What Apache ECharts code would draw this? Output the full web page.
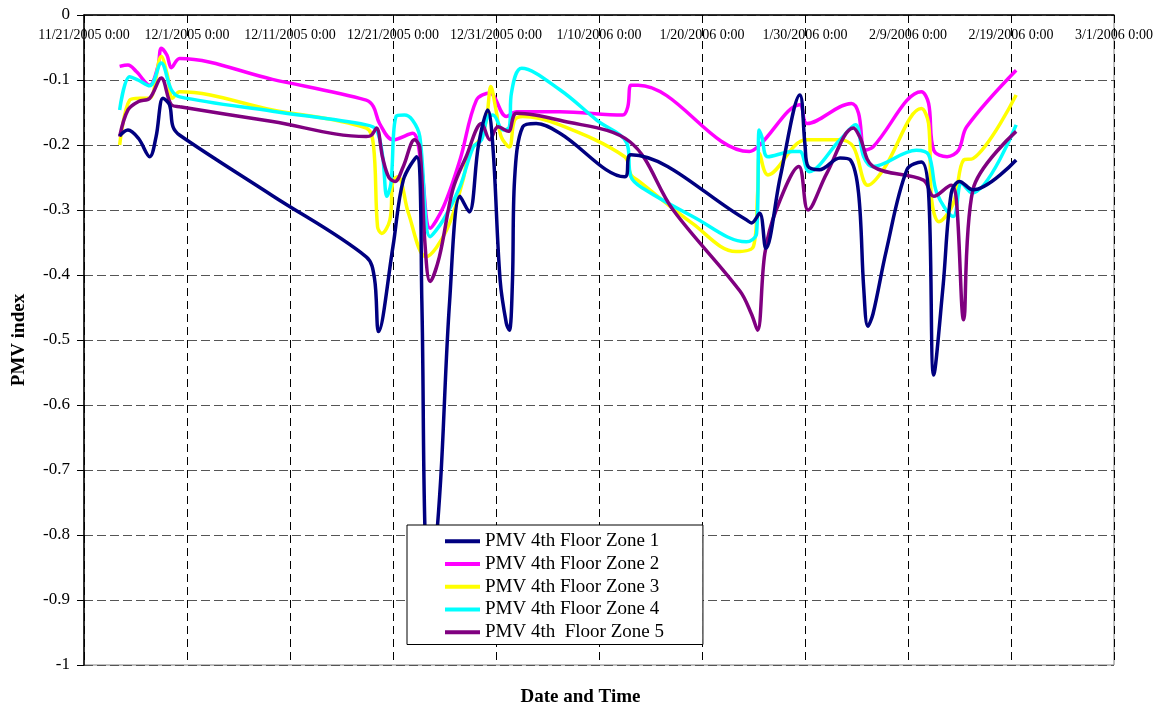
<!DOCTYPE html>
<html>
<head>
<meta charset="utf-8">
<script src="https://cdn.jsdelivr.net/npm/echarts@6/dist/echarts.min.js"></script>
<style>
html,body{margin:0;padding:0;background:#fff;}
#chart{width:1161px;height:709px;}
</style>
</head>
<body>
<div id="chart"></div>
<script>
// x values: days elapsed since 11/21/2005 0:00
const xTickLabels = ['11/21/2005 0:00','12/1/2005 0:00','12/11/2005 0:00','12/21/2005 0:00','12/31/2005 0:00','1/10/2006 0:00','1/20/2006 0:00','1/30/2006 0:00','2/9/2006 0:00','2/19/2006 0:00','3/1/2006 0:00'];
const seriesNames = ['PMV 4th Floor Zone 1','PMV 4th Floor Zone 2','PMV 4th Floor Zone 3','PMV 4th Floor Zone 4','PMV 4th  Floor Zone 5'];

const zone1Days = [3.46,4.27,5.3,6.38,7.0,7.67,8.3,8.64,9.3,18.3,27.4,28.2,28.6,30.0,31.0,32.3,32.8,33.1,33.6,34.3,34.7,35.5,36.5,37.4,38.3,39.2,39.7,40.4,41.0,41.3,41.6,41.8,42.6,43.9,46.2,52.5,53.1,64.3,64.8,65.6,66.2,67.6,69.5,70.0,70.3,71.4,73.4,74.4,75.2,75.7,76.1,76.6,77.9,79.9,81.3,82.0,82.5,83.4,84.2,85.0,86.3,90.5];
const zone1PMV  = [-0.186,-0.177,-0.19,-0.218,-0.187,-0.128,-0.138,-0.172,-0.185,-0.278,-0.372,-0.405,-0.487,-0.356,-0.254,-0.218,-0.44,-0.79,-0.92,-0.79,-0.695,-0.44,-0.279,-0.303,-0.2,-0.146,-0.203,-0.408,-0.474,-0.485,-0.408,-0.254,-0.172,-0.167,-0.182,-0.249,-0.215,-0.315,-0.32,-0.305,-0.359,-0.249,-0.123,-0.2,-0.233,-0.238,-0.22,-0.223,-0.274,-0.42,-0.479,-0.46,-0.362,-0.238,-0.226,-0.274,-0.554,-0.418,-0.274,-0.256,-0.269,-0.223];

const zone2Days = [3.46,4.27,5.08,6.38,7.18,7.5,8.06,8.48,9.29,18.3,27.4,28.1,28.7,30.0,31.9,32.75,33.6,34.9,36.5,38.1,39.4,41.0,42.0,46.2,52.3,52.8,53.1,53.8,64.6,65.6,69.5,70.2,74.5,75.2,75.8,76.6,81.3,82.0,82.5,83.8,84.9,85.7,90.5];
const zone2PMV  = [-0.079,-0.077,-0.087,-0.108,-0.079,-0.051,-0.062,-0.081,-0.067,-0.099,-0.131,-0.141,-0.167,-0.192,-0.182,-0.233,-0.328,-0.295,-0.223,-0.131,-0.12,-0.156,-0.149,-0.149,-0.154,-0.141,-0.108,-0.108,-0.21,-0.2,-0.138,-0.167,-0.136,-0.151,-0.208,-0.203,-0.118,-0.136,-0.208,-0.218,-0.208,-0.172,-0.085];

const zone3Days = [3.46,4.43,5.4,6.38,7.5,8.06,8.6,9.29,18.3,27.4,28.1,28.5,28.9,29.7,30.0,30.5,31.5,33.2,35.2,36.8,37.4,38.4,39.06,39.5,40.0,40.5,41.3,41.8,42.6,46.2,52.5,53.1,53.9,59.1,63.3,65.0,65.4,65.6,66.4,70.1,73.4,74.7,76.1,77.6,81.3,82.0,82.3,83.0,84.4,85.4,86.3,90.5];
const zone3PMV  = [-0.2,-0.131,-0.128,-0.128,-0.064,-0.09,-0.128,-0.118,-0.146,-0.174,-0.2,-0.326,-0.336,-0.315,-0.254,-0.249,-0.305,-0.372,-0.331,-0.254,-0.21,-0.192,-0.162,-0.11,-0.146,-0.187,-0.203,-0.162,-0.156,-0.169,-0.218,-0.246,-0.256,-0.321,-0.364,-0.356,-0.274,-0.213,-0.246,-0.192,-0.192,-0.203,-0.262,-0.238,-0.144,-0.167,-0.285,-0.318,-0.29,-0.223,-0.221,-0.123];

const zone4Days = [3.46,4.43,5.24,6.38,7.5,8.48,9.29,18.3,27.4,28.4,29.0,29.4,29.8,30.3,31.1,31.9,32.6,33.6,34.9,36.5,37.8,38.6,39.2,39.7,40.7,41.3,41.5,42.5,46.2,49.8,52.7,53.1,54.3,59.1,64.3,65.3,65.55,65.8,66.4,68.8,69.5,70.4,73.4,74.9,75.7,76.6,80.8,82.0,82.8,84.4,85.2,86.2,90.5];
const zone4PMV  = [-0.146,-0.095,-0.1,-0.109,-0.074,-0.115,-0.126,-0.148,-0.169,-0.177,-0.218,-0.279,-0.259,-0.156,-0.154,-0.162,-0.187,-0.341,-0.315,-0.264,-0.203,-0.192,-0.156,-0.154,-0.177,-0.172,-0.12,-0.082,-0.115,-0.162,-0.197,-0.249,-0.267,-0.31,-0.349,-0.336,-0.177,-0.187,-0.218,-0.21,-0.21,-0.241,-0.192,-0.169,-0.218,-0.233,-0.208,-0.215,-0.274,-0.31,-0.259,-0.274,-0.169];

const zone5Days = [3.46,4.27,5.3,6.38,7.5,8.48,9.29,18.3,27.4,27.9,28.4,29.0,29.6,30.2,31.0,32.1,32.6,33.1,33.6,34.5,35.8,37.1,38.6,39.4,40.2,41.2,42.0,46.2,53.0,57.2,63.7,64.8,65.4,66.1,67.2,69.4,70.3,72.1,74.7,75.3,76.6,81.5,82.5,84.2,84.7,85.4,86.3,90.5];
const zone5PMV  = [-0.187,-0.146,-0.133,-0.128,-0.097,-0.138,-0.141,-0.164,-0.187,-0.185,-0.174,-0.22,-0.25,-0.256,-0.233,-0.192,-0.203,-0.351,-0.41,-0.372,-0.269,-0.218,-0.167,-0.192,-0.172,-0.179,-0.151,-0.162,-0.195,-0.3,-0.425,-0.46,-0.485,-0.367,-0.3,-0.233,-0.3,-0.244,-0.174,-0.187,-0.233,-0.254,-0.279,-0.262,-0.285,-0.469,-0.269,-0.179];

const colors = ['#000080','#FF00FF','#FFFF00','#00FFFF','#800080'];
const allDays = [zone1Days, zone2Days, zone3Days, zone4Days, zone5Days];
const allPMV = [zone1PMV, zone2PMV, zone3PMV, zone4PMV, zone5PMV];
const seriesZ = [7, 3, 4, 5, 6];

const FONT = '"Liberation Serif", "Times New Roman", serif';

const chart = echarts.init(document.getElementById('chart'), null, {renderer: 'canvas'});

const series = seriesNames.map((name, i) => ({
  name: name,
  type: 'line',
  data: allDays[i].map((d, j) => [d, allPMV[i][j]]),
  smooth: 0.35,
  showSymbol: false,
  symbol: 'none',
  lineStyle: {color: colors[i], width: 3.5},
  itemStyle: {color: colors[i]},
  z: seriesZ[i]
}));

chart.setOption({
  animation: false,
  backgroundColor: '#ffffff',
  grid: {left: 84, top: 15, right: 47, bottom: 44, show: true, borderColor: '#808080', borderWidth: 1, backgroundColor: 'transparent'},
  xAxis: {
    type: 'value', position: 'top', min: 0, max: 100, interval: 10,
    axisLine: {show: true, onZero: false, lineStyle: {color: '#000', width: 1.5}},
    axisTick: {show: true, inside: true, length: 5, lineStyle: {color: '#000'}},
    axisLabel: {inside: true, margin: 13, fontFamily: FONT, fontSize: 14, color: '#000',
      formatter: v => xTickLabels[Math.round(v / 10)]},
    splitLine: {show: true, lineStyle: {color: '#000', type: [8, 5], width: 1}}
  },
  yAxis: {
    type: 'value', min: -1, max: 0, interval: 0.1,
    axisLine: {show: true, lineStyle: {color: '#000', width: 1.5}},
    axisTick: {show: true, inside: false, length: 7, lineStyle: {color: '#000'}},
    axisLabel: {margin: 14, fontFamily: FONT, fontSize: 17, color: '#000',
      formatter: v => (Math.abs(v) < 1e-9 ? '0' : String(Math.round(v * 10) / 10))},
    splitLine: {show: true, lineStyle: {color: '#555', type: [9, 4], width: 1}},
    name: 'PMV index', nameLocation: 'middle', nameGap: 55, nameRotate: 90,
    nameTextStyle: {fontFamily: FONT, fontSize: 19, fontWeight: 'bold', color: '#000'}
  },
  legend: {
    orient: 'vertical', left: 407, top: 525,
    data: seriesNames,
    icon: 'rect',
    backgroundColor: '#ffffff', borderColor: '#000', borderWidth: 1,
    padding: [5, 39, 1, 38], itemGap: 0, itemWidth: 35, itemHeight: 4, itemTextGap: 3,
    textStyle: {fontFamily: FONT, fontSize: 19, color: '#000', lineHeight: 22.7},
    z: 10
  },
  graphic: [{
    type: 'text', left: 'center', top: 688,
    style: {text: 'Date and Time', font: 'bold 19px ' + FONT, fill: '#000'}
  }],
  series: series
});
</script>
</body>
</html>
